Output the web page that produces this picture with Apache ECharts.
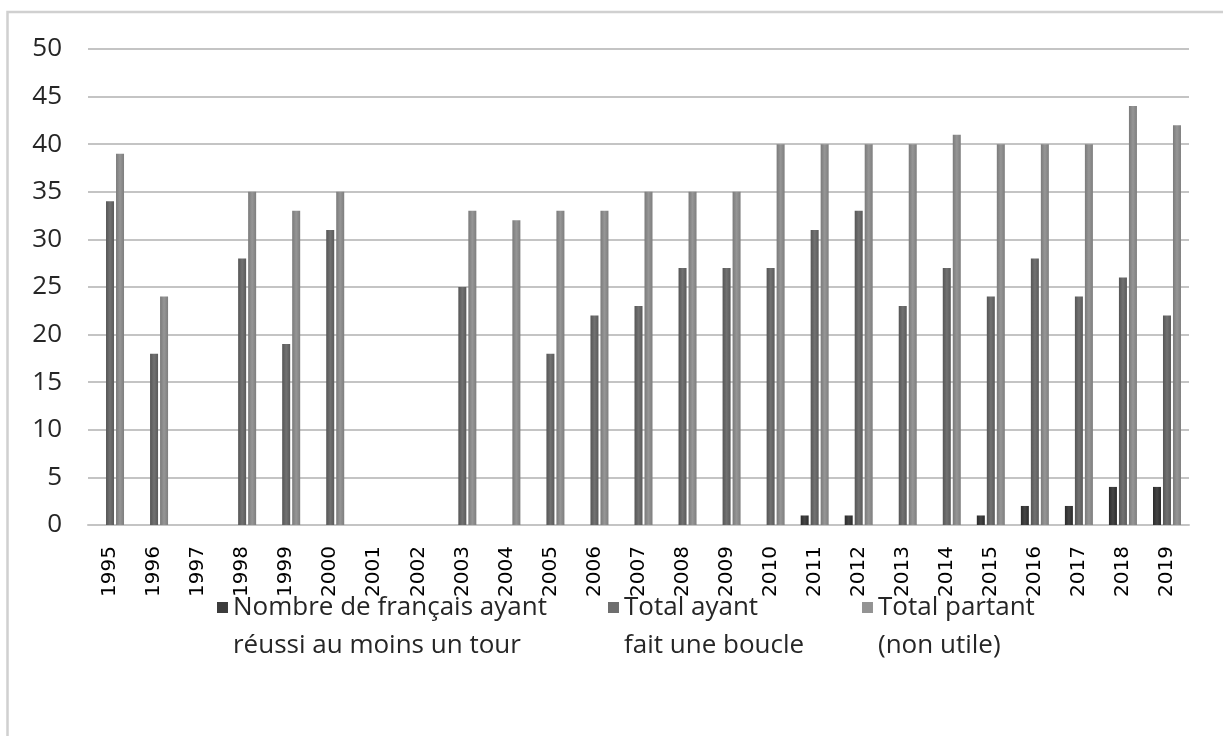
<!DOCTYPE html>
<html>
<head>
<meta charset="utf-8">
<script src="https://cdn.jsdelivr.net/npm/echarts@6/dist/echarts.min.js"></script>
<style>
html,body{margin:0;padding:0;background:#fff;}
#chart{width:1223px;height:736px;}
</style>
</head>
<body>
<div id="chart"></div>
<script>
const years = ['1995','1996','1997','1998','1999','2000','2001','2002','2003','2004','2005','2006','2007','2008','2009','2010','2011','2012','2013','2014','2015','2016','2017','2018','2019'];
const francais = [0,0,0,0,0,0,0,0,0,0,0,0,0,0,0,0,1,1,0,0,1,2,2,4,4];
const boucle   = [34,18,0,28,19,31,0,0,25,0,18,22,23,27,27,27,31,33,23,27,24,28,24,26,22];
const partant  = [39,24,0,35,33,35,0,0,33,32,33,33,35,35,35,40,40,40,40,41,40,40,40,44,42];
const seriesNames = ['Nombre de français ayant\nréussi au moins un tour', 'Total ayant\nfait une boucle', 'Total partant\n(non utile)'];
const yTicks = {min: 0, max: 50, interval: 5};

const chart = echarts.init(document.getElementById('chart'));
const fills = [
  ['#2a2a2a', '#454545', '#2a2a2a'],
  ['#555555', '#727272', '#5a5a5a'],
  ['#7a7a7a', '#969696', '#7e7e7e']
];
const legendColors = ['#3c3c3c', '#6e6e6e', '#939393'];
const values = [francais, boucle, partant];
const legendLeft = [217, 608, 862];
const iconPath = 'path://M0,0H11V11H0Z M0,50H0.1V50.1H0Z';

function grad(c) {
  return new echarts.graphic.LinearGradient(0, 0, 1, 0, [
    {offset: 0, color: c[0]}, {offset: 0.5, color: c[1]}, {offset: 1, color: c[2]}
  ]);
}

const option = {
  backgroundColor: '#ffffff',
  animation: false,
  graphic: [{
    type: 'rect',
    shape: {x: 7.5, y: 12, width: 1240, height: 760},
    style: {fill: 'none', stroke: '#d0d0d0', lineWidth: 2.5},
    silent: true, z: -1
  }],
  grid: {left: 88, right: 34, top: 49, bottom: 211},
  legend: seriesNames.map((n, i) => ({
    data: [{name: n, itemStyle: {color: legendColors[i], borderWidth: 0}}],
    left: legendLeft[i],
    top: 589,
    padding: 0,
    icon: iconPath,
    itemWidth: 11,
    itemHeight: 50,
    itemGap: 5,
    selectedMode: false,
    textStyle: {fontFamily: 'Open Sans', fontSize: 26, lineHeight: 38, color: '#262626'}
  })),
  xAxis: {
    type: 'category',
    data: years,
    axisTick: {show: false},
    axisLine: {lineStyle: {color: '#c4c4c4', width: 2}},
    axisLabel: {rotate: 90, interval: 0, margin: 21, fontFamily: 'DejaVu Sans', fontSize: 20, color: '#000'}
  },
  yAxis: {
    type: 'value',
    min: yTicks.min, max: yTicks.max, interval: yTicks.interval,
    axisLine: {show: false},
    axisTick: {show: false},
    splitLine: {lineStyle: {color: '#c4c4c4', width: 2}},
    axisLabel: {margin: 26, fontFamily: 'Open Sans', fontSize: 26, color: '#262626'}
  },
  series: seriesNames.map((n, i) => ({
    name: n,
    type: 'bar',
    data: values[i],
    barWidth: 8,
    barGap: '25%',
    itemStyle: {color: grad(fills[i]), borderWidth: 0}
  }))
};
chart.setOption(option);
</script>
</body>
</html>
